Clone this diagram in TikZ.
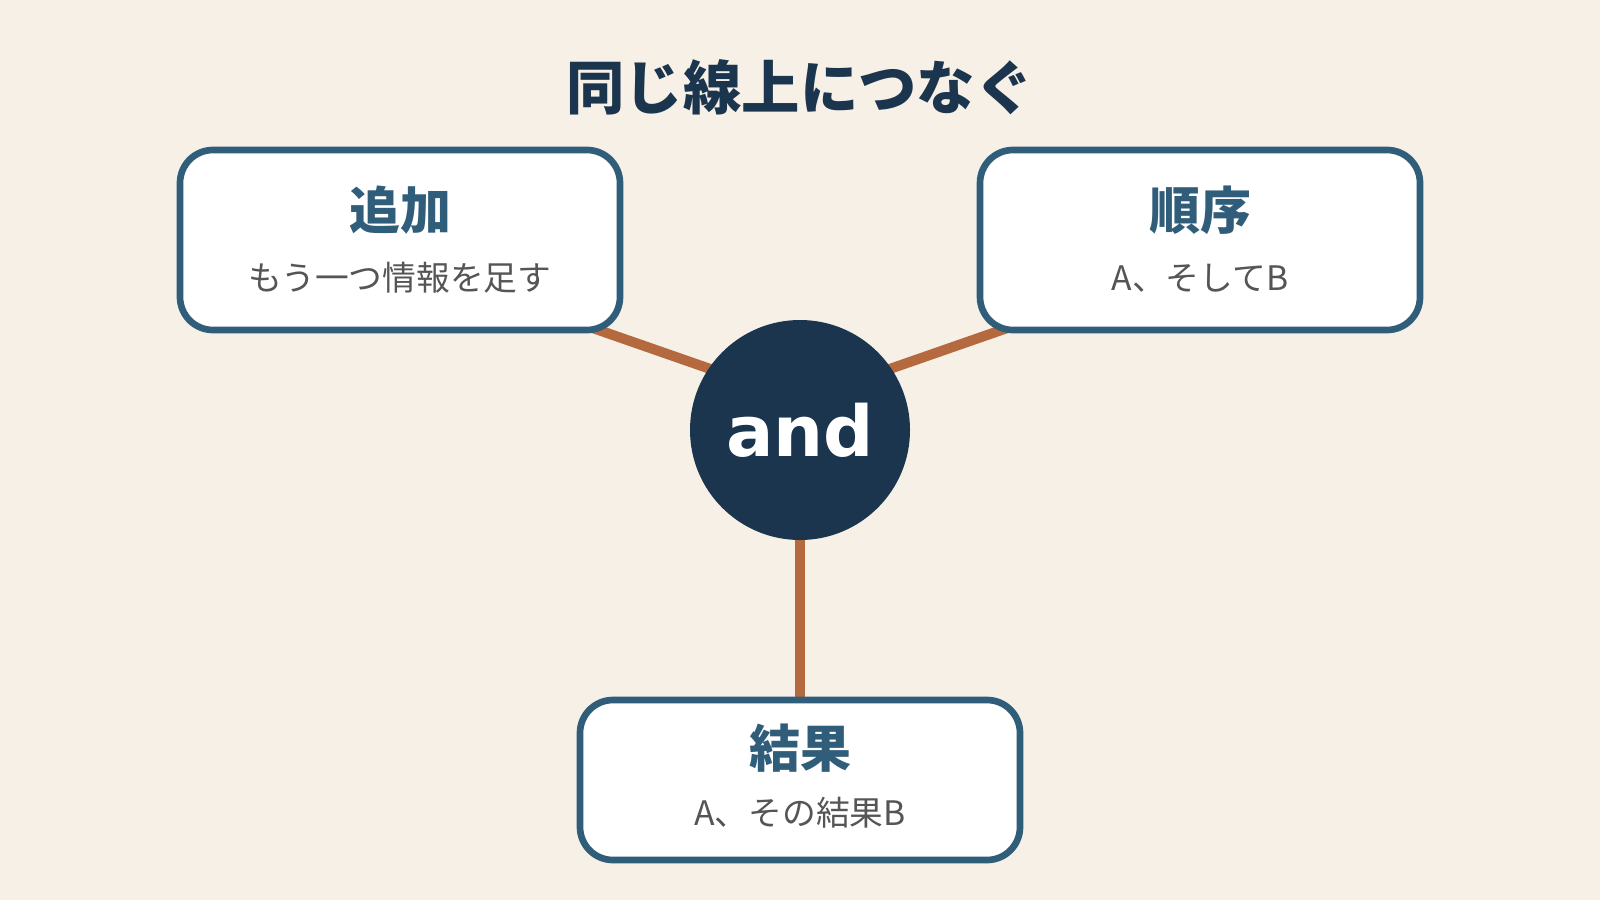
\documentclass[tikz,border=0pt]{standalone}
\usepackage{fontspec}
\usetikzlibrary{positioning,calc}
\newfontfamily\jpfont{Noto Sans CJK JP}
\newfontfamily\andfont{DejaVu Sans}
\definecolor{paper}{HTML}{F6F0E6}
\definecolor{navy}{HTML}{1B354E}
\definecolor{cardline}{HTML}{305D7A}
\definecolor{notegray}{HTML}{555555}
\definecolor{linkbrown}{HTML}{B46A3E}
\pgfdeclarelayer{paperlayer}
\pgfdeclarelayer{linklayer}
\pgfsetlayers{paperlayer,linklayer,main}

\begin{document}
\begin{tikzpicture}[
    card/.style={draw=cardline, fill=white, line width=1.9pt, rounded corners=0.33cm,
        minimum width=4.4cm, minimum height=1.8cm, inner sep=0pt},
    head/.style={text=cardline, font=\jpfont\bfseries\fontsize{14.5pt}{16pt}\selectfont},
    note/.style={text=notegray, font=\jpfont\fontsize{9.6pt}{11pt}\selectfont},
    link/.style={draw=linkbrown, line width=2.85pt},
]
    \begin{pgfonlayer}{paperlayer}
        \fill[paper] (0, 0) rectangle (16, 9);
    \end{pgfonlayer}
    \node[text=navy, font=\jpfont\bfseries\fontsize{16.6pt}{19pt}\selectfont] (title) at (8, 8.13) {同じ線上につなぐ};
    \node[card] (add) at (4, 6.6) {};
    \node[head] (addhead) at ([yshift=0.3cm]add.center) {追加};
    \node[note] (addnote) at ([yshift=-0.38cm]add.center) {もう一つ情報を足す};
    \node[card] (seq) at (12, 6.6) {};
    \node[head] (seqhead) at ([yshift=0.3cm]seq.center) {順序};
    \node[note] (seqnote) at ([yshift=-0.38cm]seq.center) {A、そしてB};
    \node[card, minimum height=1.6cm] (res) at (8, 1.2) {};
    \node[head] (reshead) at ([yshift=0.32cm]res.center) {結果};
    \node[note] (resnote) at ([yshift=-0.33cm]res.center) {A、その結果B};
    \node[circle, fill=navy, minimum size=2.2cm, inner sep=0pt, outer sep=0pt, text=white,
        font=\andfont\bfseries\fontsize{20pt}{22pt}\selectfont] (hub) at (8, 4.7) {and};
    \begin{pgfonlayer}{linklayer}
        \draw[link] ([shift={(-0.633, 0.167)}]add.south east) -- ([shift={(-19.1:0.2)}]hub.146);
        \draw[link] ([shift={(0.633, 0.167)}]seq.south west) -- ([shift={(199.1:0.2)}]hub.34);
        \draw[link] (hub) -- (res);
    \end{pgfonlayer}
\end{tikzpicture}
\end{document}
